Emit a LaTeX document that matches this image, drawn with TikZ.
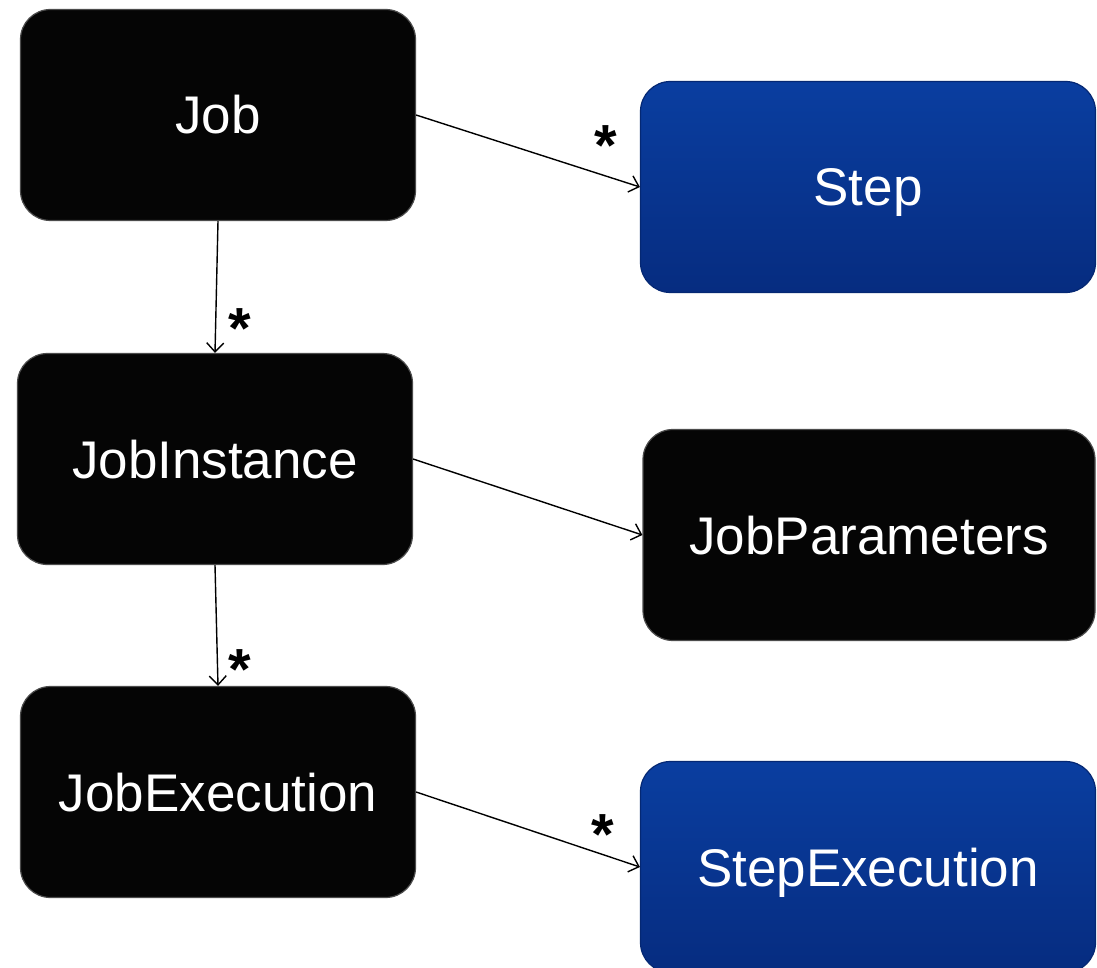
\documentclass[tikz,border=0pt]{standalone}
\usepackage{fontspec}
\setmainfont{Liberation Sans}
\definecolor{bluetop}{RGB}{10,62,160}
\definecolor{bluebot}{RGB}{6,44,128}
\definecolor{boxblack}{RGB}{5,5,5}
\tikzset{
  box/.style={rounded corners=30pt, minimum width=395pt, minimum height=211pt,
    inner sep=0pt, text=white, font=\fontsize{53}{60}\selectfont,
    text height=38pt, text depth=0pt},
  blackbox/.style={box, fill=boxblack, draw=black!70, line width=1.2pt},
  bluebox/.style={box, top color=bluetop, bottom color=bluebot, draw=bluebot!90!black, line width=1.2pt,
    minimum width=455pt},
  conn/.style={-{Straight Barb[length=9pt,width=17pt]}, line width=1.4pt},
  mult/.style={font=\bfseries\fontsize{58}{60}\selectfont, inner sep=0pt, anchor=base}
}
\usetikzlibrary{arrows.meta}
\begin{document}
\begin{tikzpicture}[x=1pt,y=-1pt]
\path[use as bounding box, clip] (0,0) rectangle (1097,968);
\fill[white] (0,0) rectangle (1097,968);
\node[blackbox] (job) at (218,115) {Job};
\node[bluebox] (step) at (868,187) {Step};
\node[blackbox] (inst) at (215,459) {JobInstance};
\node[blackbox, minimum width=452pt] (params) at (869,535) {JobParameters};
\node[blackbox] (exec) at (218,792) {JobExecution};
\node[bluebox] (stepexec) at (868,867) {StepExecution};
\draw[conn] (job.east) -- (step.west);
\draw[conn] (job.south) -- (inst.north);
\draw[conn] (inst.east) -- (params.west);
\draw[conn] (inst.south) -- (exec.north);
\draw[conn] (exec.east) -- (stepexec.west);
\node[mult] (m1) at (606,166) {*};
\node[mult] (m2) at (240,348) {*};
\node[mult] (m3) at (240,689) {*};
\node[mult] (m4) at (603,854) {*};
\end{tikzpicture}
\end{document}
